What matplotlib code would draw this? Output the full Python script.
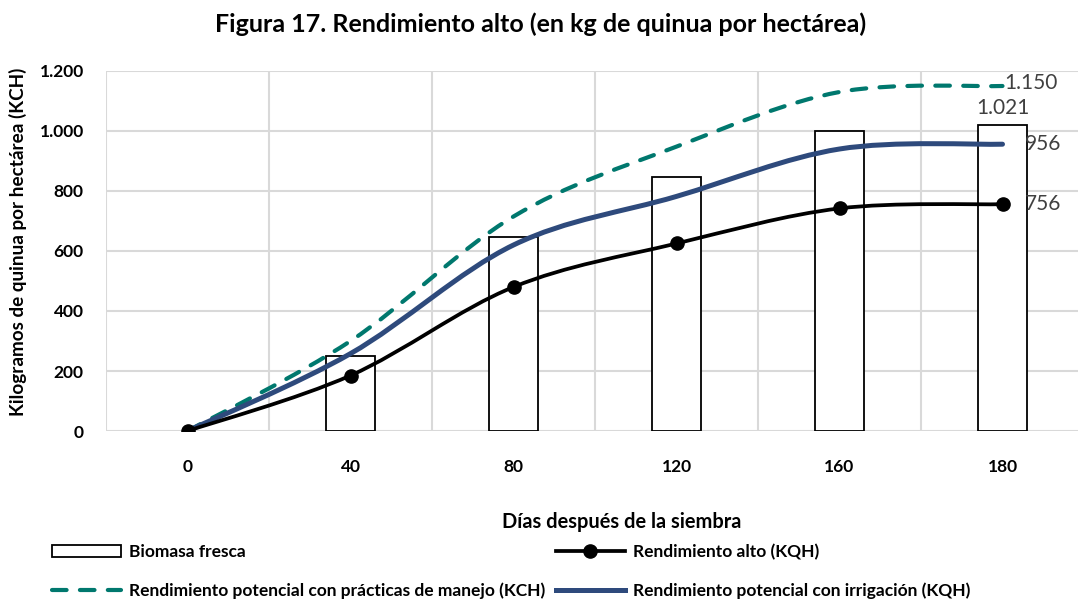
import matplotlib
matplotlib.use('Agg')
import matplotlib.pyplot as plt
from matplotlib.path import Path
from matplotlib.patches import PathPatch
from matplotlib.lines import Line2D
from matplotlib.patches import Patch
from matplotlib.ticker import FuncFormatter

plt.rcParams['font.family'] = ['Lato', 'DejaVu Sans']

dias = ['0', '40', '80', '120', '160', '180']
biomasa = [0, 250, 645, 845, 1000, 1021]
rend_alto = [0, 185, 480, 625, 742, 756]
rend_manejo = [0, 300, 715, 948, 1130, 1150]
rend_irrig = [0, 258, 620, 782, 940, 956]

verde = '#00786e'
azul = '#2e4a7c'
gris = '#404040'


def smooth_path(xs, ys):
    # curva suavizada tipo Excel (Catmull-Rom -> Bezier cubica)
    pts = list(zip(xs, ys))
    n = len(pts)
    verts = [pts[0]]
    codes = [Path.MOVETO]
    for i in range(n - 1):
        p0 = pts[i - 1] if i > 0 else pts[i]
        p1 = pts[i]
        p2 = pts[i + 1]
        p3 = pts[i + 2] if i + 2 < n else pts[i + 1]
        c1 = (p1[0] + (p2[0] - p0[0]) / 6, p1[1] + (p2[1] - p0[1]) / 6)
        c2 = (p2[0] - (p3[0] - p1[0]) / 6, p2[1] - (p3[1] - p1[1]) / 6)
        verts += [c1, c2, p2]
        codes += [Path.CURVE4] * 3
    return Path(verts, codes)


def miles(v):
    return format(int(v), ',').replace(',', '.')


fig = plt.figure(figsize=(10.78, 6.02), dpi=100)
ax = fig.add_axes([106 / 1078, 1 - 431 / 602, 978 / 1078, 360 / 602])

x = list(range(len(dias)))
bordes = ['black' if b > 0 else 'none' for b in biomasa]
ax.bar(x, biomasa, width=0.3, color='white', edgecolor=bordes, linewidth=1.3, zorder=2)

ax.add_patch(PathPatch(smooth_path(x, rend_manejo), fill=False, edgecolor=verde, lw=3,
                       linestyle=(0, (3.5, 3.2)), capstyle='round', zorder=3))
ax.add_patch(PathPatch(smooth_path(x, rend_irrig), fill=False, edgecolor=azul, lw=3.6,
                       capstyle='round', zorder=4))
ax.add_patch(PathPatch(smooth_path(x, rend_alto), fill=False, edgecolor='black', lw=2.7,
                       capstyle='round', zorder=5))
ax.plot(x, rend_alto, 'o', color='black', markersize=9.5, zorder=6)

ax.set_xlim(-0.5, 5.5)
ax.set_ylim(0, 1200)
ax.set_yticks(range(0, 1201, 200))
ax.yaxis.set_major_formatter(FuncFormatter(lambda v, p: miles(v)))
ax.set_xticks(x)
ax.set_xticklabels(dias)
ax.set_xticks([i + 0.5 for i in range(-1, 6)], minor=True)
ax.grid(True, axis='y', color='#d9d9d9', lw=1.5, zorder=0)
ax.grid(True, axis='x', which='minor', color='#d9d9d9', lw=1.5, zorder=0)
ax.set_axisbelow(True)
for s in ax.spines.values():
    s.set_visible(False)
ax.tick_params(axis='both', which='both', length=0)
ax.tick_params(axis='x', pad=20)
ax.tick_params(axis='y', pad=16)
for t in ax.get_xticklabels() + ax.get_yticklabels():
    t.set_fontsize(12.5)
    t.set_fontweight('bold')

# etiquetas de datos
ax.annotate(miles(rend_manejo[-1]), (5, rend_manejo[-1]),
            xytext=(1, 2), textcoords='offset points', ha='left', va='center',
            fontsize=15, color=gris)
ax.annotate(miles(biomasa[-1]), (5, biomasa[-1]),
            xytext=(0, 5), textcoords='offset points', ha='center', va='bottom',
            fontsize=15, color=gris)
ax.annotate(str(rend_irrig[-1]), (5, rend_irrig[-1]),
            xytext=(16, 0), textcoords='offset points', ha='left', va='center',
            fontsize=15, color=gris)
ax.annotate(str(rend_alto[-1]), (5, rend_alto[-1]),
            xytext=(16, 0), textcoords='offset points', ha='left', va='center',
            fontsize=15, color=gris)

fig.text(541 / 1078, 1 - 24 / 602, 'Figura 17. Rendimiento alto (en kg de quinua por hectárea)',
         ha='center', va='center', fontsize=18, fontweight='bold')
fig.text(18 / 1078, 1 - 242 / 602, 'Kilogramos de quinua por hectárea (KCH)',
         rotation=90, ha='center', va='center', fontsize=13.6, fontweight='bold')
fig.text(622 / 1078, 1 - 522 / 602, 'Días después de la siembra',
         ha='center', va='center', fontsize=14.4, fontweight='bold')

handles = [
    Patch(facecolor='white', edgecolor='black', linewidth=1.3),
    Line2D([], [], color=verde, lw=3, linestyle=(0, (3.5, 3.2)), dash_capstyle='round'),
    Line2D([], [], color='black', lw=2.7, marker='o', markersize=9.5),
    Line2D([], [], color=azul, lw=3.6),
]
labels = ['Biomasa fresca',
          'Rendimiento potencial con prácticas de manejo (KCH)',
          'Rendimiento alto (KQH)',
          'Rendimiento potencial con irrigación (KQH)']
leg = fig.legend(handles, labels, loc='upper left', bbox_to_anchor=(36 / 1078, 1 - 528 / 602),
                 ncol=2, frameon=False, handlelength=4, handleheight=0.75,
                 handletextpad=0.45, columnspacing=0.6, labelspacing=1.3,
                 prop={'weight': 'bold', 'size': 12.5})

fig.savefig('out.png', dpi=100)
